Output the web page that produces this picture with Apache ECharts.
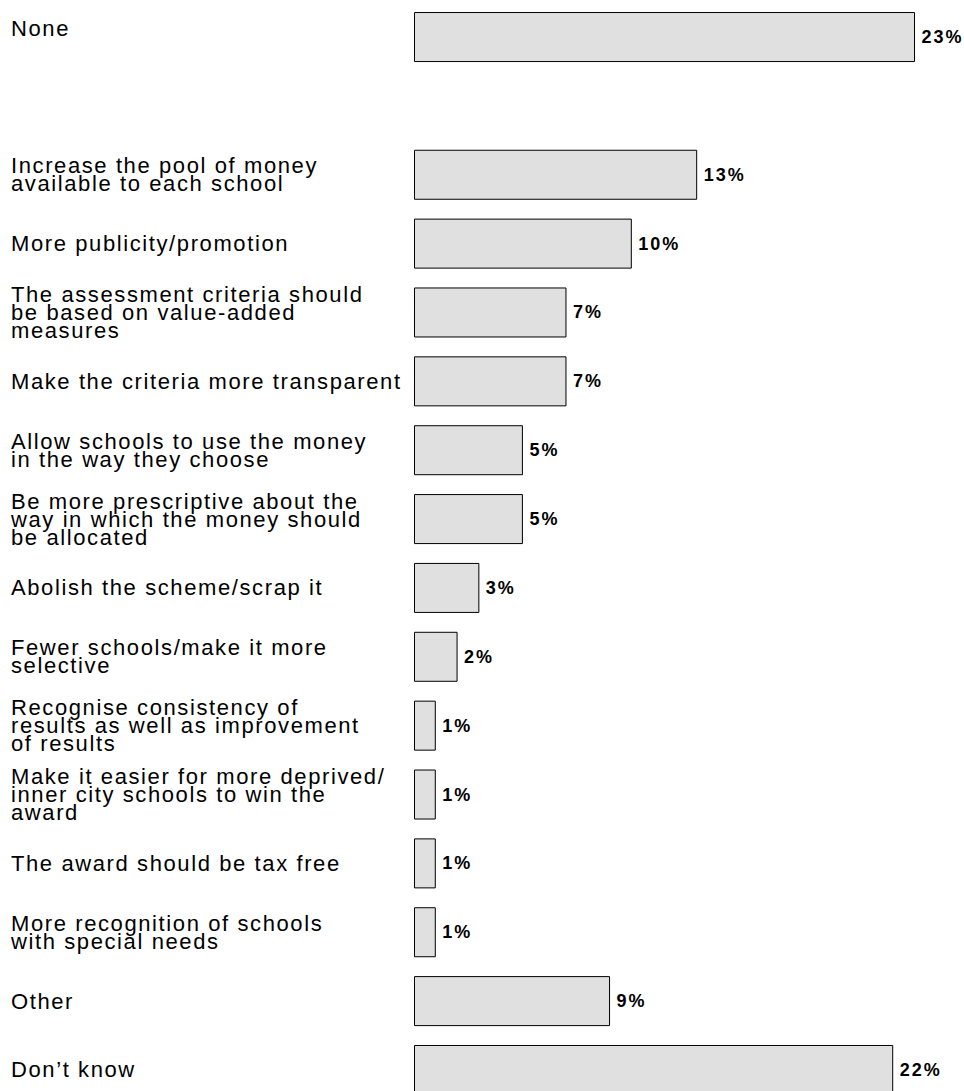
<!DOCTYPE html>
<html>
<head>
<meta charset="utf-8">
<script src="https://cdn.jsdelivr.net/npm/echarts@6/dist/echarts.min.js"></script>
<style>
  html, body { margin: 0; padding: 0; background: #fff; overflow: hidden; }
  #chart { width: 964px; height: 1110px; }
  /* spaced-out lettering for category and value text */
  #chart text { letter-spacing: 1.6px; }
  #chart text[style*="bold"] { letter-spacing: 2px; }
</style>
</head>
<body>
<div id="chart"></div>
<script>
// Suggested changes to the award scheme (% of respondents)
const categories = [
  'None',
  '',
  'Increase the pool of money\navailable to each school',
  'More publicity/promotion',
  'The assessment criteria should\nbe based on value-added\nmeasures',
  'Make the criteria more transparent',
  'Allow schools to use the money\nin the way they choose',
  'Be more prescriptive about the\nway in which the money should\nbe allocated',
  'Abolish the scheme/scrap it',
  'Fewer schools/make it more\nselective',
  'Recognise consistency of\nresults as well as improvement\nof results',
  'Make it easier for more deprived/\ninner city schools to win the\naward',
  'The award should be tax free',
  'More recognition of schools\nwith special needs',
  'Other',
  'Don\u2019t know'
];
const percentages = [23, '-', 13, 10, 7, 7, 5, 5, 3, 2, 1, 1, 1, 1, 9, 22];

const chart = echarts.init(document.getElementById('chart'), null, { renderer: 'svg' });
const FONT = '"Liberation Sans", Arial, Helvetica, sans-serif';

// the first category label sits a little above its bar's centre line
const axisData = categories.map((name, i) =>
  i === 0 ? { value: name, textStyle: { align: 'left', verticalAlign: 'bottom' } } : name
);

chart.setOption({
  animation: false,
  backgroundColor: '#ffffff',
  grid: {
    left: 414, top: 2.6, width: 501, height: 1101.8,
    containLabel: false, outerBoundsMode: 'none'
  },
  xAxis: {
    type: 'value', min: 0, max: 23,
    show: false
  },
  yAxis: {
    type: 'category',
    inverse: true,
    data: axisData,
    axisLine: { show: false },
    axisTick: { show: false },
    splitLine: { show: false },
    axisLabel: {
      align: 'left',
      margin: 403,
      color: '#000',
      fontFamily: FONT,
      fontSize: 22,
      lineHeight: 18,
      interval: 0
    }
  },
  series: [{
    type: 'bar',
    data: percentages,
    barWidth: 50,
    itemStyle: { color: '#e0e0e0', borderColor: '#000', borderWidth: 1 },
    label: {
      show: true,
      position: 'right',
      distance: 6.5,
      color: '#000',
      fontFamily: FONT,
      fontWeight: 'bold',
      fontSize: 18,
      formatter: p => (typeof p.value === 'number' ? p.value + '%' : '')
    }
  }]
});
</script>
</body>
</html>
